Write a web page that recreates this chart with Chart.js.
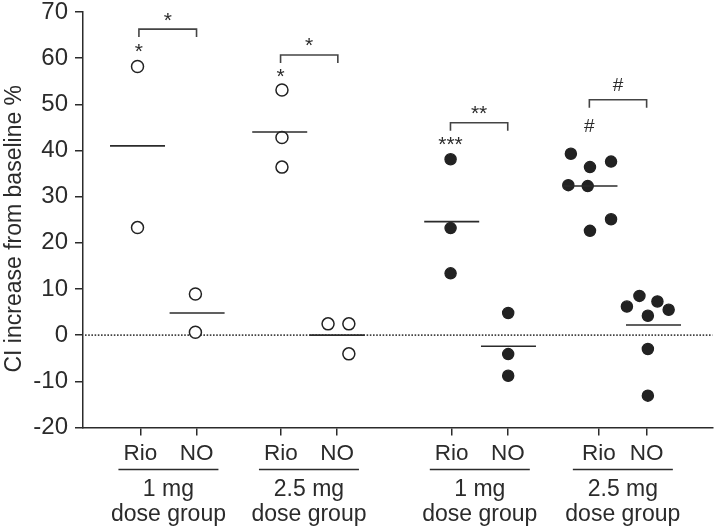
<!DOCTYPE html>
<html><head><meta charset="utf-8">
<script src="https://cdn.jsdelivr.net/npm/chart.js@4.4.1/dist/chart.umd.min.js"></script>
<style>html,body{margin:0;padding:0;background:#fff}canvas{display:block}</style>
</head><body>
<canvas id="c" width="720" height="530"></canvas>
<script>
// ---- categories / ticks ----
const categories = ['Rio','NO','Rio','NO','Rio','NO','Rio','NO'];
const categoryX = [1.02, 2.02, 3.52, 4.52, 6.56, 7.56, 9.18, 10.03];
const groupLabels = ['1 mg', '2.5 mg', '1 mg', '2.5 mg'];
const groupSubLabel = 'dose group';
const yMin = -20, yMax = 70, yStep = 10;
const yTitle = 'CI increase from baseline %';

// ---- individual values [x, y] ----
const rio1mgOpen = [[0.97,58.2],[0.97,23.3]];
const no1mgOpen = [[2.0,8.9],[2.0,0.65]];
const rio25mgOpen = [[3.54,53.1],[3.54,42.8],[3.54,36.4]];
const no25mgOpen = [[4.36,2.45],[4.73,2.45],[4.73,-4.05]];
const rio1mgFilled = [[6.54,38.1],[6.54,23.2],[6.54,13.4]];
const no1mgFilled = [[7.565,4.8],[7.565,-4.1],[7.565,-8.8]];
const rio25mgFilled = [[8.68,39.3],[9.02,36.4],[9.395,37.6],[8.635,32.5],[8.98,32.3],[9.395,25.1],[9.02,22.6]];
const no25mgFilled = [[9.677,6.2],[9.9,8.5],[10.22,7.3],[10.05,4.2],[10.42,5.5],[10.05,-3.0],[10.05,-13.1]];

// ---- group means ----
const meanX = [0.97, 2.03, 3.5, 4.52, 6.56, 7.57, 9.02, 10.15];
const meanY = [41.0, 4.8, 44.0, 0.0, 24.6, -2.4, 32.3, 2.2];

// ---- significance marks ----
const bracketFrom = [0.995, 3.515, 6.538, 9.009];
const bracketTo = [2.02, 4.534, 7.557, 10.028];
const bracketY = [66.3, 60.7, 46.0, 51.0];
const bracketMark = ['*','*','**','#'];
const bracketMarkY = [69.0, 63.4, 48.8, 54.4];
const rioMark = ['*','*','***','#'];
const rioMarkY = [62.3, 56.7, 42.1, 45.4];

const FONT = '"Liberation Sans", Arial, Helvetica, sans-serif';
const INK = '#2b2b2b';
const toPts = a => a.map(p => ({x: p[0], y: p[1]}));

function openSet(d){ return {data: toPts(d), pointStyle:'circle', pointRadius:6, pointBorderWidth:1.5,
  pointBackgroundColor:'#fff', pointBorderColor:'#222', showLine:false}; }
function fillSet(d){ return {data: toPts(d), pointStyle:'circle', pointRadius:5.6, pointBorderWidth:1.3,
  pointBackgroundColor:'#222', pointBorderColor:'#222', showLine:false}; }

function drawMark(ctx, text, x, y, size){
  ctx.font = size + 'px ' + FONT;
  ctx.textAlign = 'center';
  ctx.textBaseline = 'alphabetic';
  const m = ctx.measureText(text);
  ctx.fillText(text, x, y + (m.actualBoundingBoxAscent - m.actualBoundingBoxDescent) / 2);
}

const annotations = {
  id: 'annotations',
  beforeDatasetsDraw(chart){
    const {ctx, chartArea, scales:{x, y}} = chart;
    const y0 = y.getPixelForValue(0);
    ctx.save();
    ctx.strokeStyle = '#444'; ctx.lineWidth = 1.6; ctx.setLineDash([1.6,1.6]);
    ctx.beginPath(); ctx.moveTo(chartArea.left + 2, y0); ctx.lineTo(chartArea.right, y0); ctx.stroke();
    ctx.restore();
  },
  afterDatasetsDraw(chart){
    const {ctx, chartArea, scales:{x, y}} = chart;
    ctx.save();
    // mean lines
    ctx.strokeStyle = INK; ctx.lineWidth = 1.6;
    meanX.forEach((mx, i) => {
      const px = x.getPixelForValue(mx), py = y.getPixelForValue(meanY[i]);
      ctx.beginPath(); ctx.moveTo(px - 27.5, py); ctx.lineTo(px + 27.5, py); ctx.stroke();
    });
    // brackets
    ctx.strokeStyle = '#444'; ctx.lineWidth = 1.6;
    ctx.fillStyle = INK;
    bracketFrom.forEach((bf, i) => {
      const x1 = x.getPixelForValue(bf), x2 = x.getPixelForValue(bracketTo[i]);
      const by = y.getPixelForValue(bracketY[i]);
      ctx.beginPath(); ctx.moveTo(x1, by + 8); ctx.lineTo(x1, by); ctx.lineTo(x2, by); ctx.lineTo(x2, by + 8); ctx.stroke();
      const isHash = bracketMark[i] === '#';
      drawMark(ctx, bracketMark[i], (x1 + x2) / 2, y.getPixelForValue(bracketMarkY[i]), isHash ? 19 : 21);
      drawMark(ctx, rioMark[i], x1, y.getPixelForValue(rioMarkY[i]), isHash ? 19 : 21);
    });
    ctx.restore();
  },
  afterDraw(chart){
    const {ctx, chartArea, scales:{x, y}} = chart;
    ctx.save();
    ctx.fillStyle = INK; ctx.strokeStyle = INK; ctx.lineWidth = 1.5;
    // group labels under pairs
    groupLabels.forEach((g, i) => {
      const c = (x.getPixelForValue(categoryX[2*i]) + x.getPixelForValue(categoryX[2*i+1])) / 2;
      ctx.beginPath(); ctx.moveTo(c - 50, 469.5); ctx.lineTo(c + 50, 469.5); ctx.stroke();
      ctx.font = '23px ' + FONT; ctx.textAlign = 'center'; ctx.textBaseline = 'alphabetic';
      ctx.fillText(g, c, 495.5);
      ctx.fillText(groupSubLabel, c, 520.5);
    });
    // y title
    ctx.translate(20.7, (chartArea.top + chartArea.bottom) / 2 + 9);
    ctx.rotate(-Math.PI / 2);
    ctx.font = '23px ' + FONT; ctx.textAlign = 'center'; ctx.textBaseline = 'alphabetic';
    ctx.fillText(yTitle, 0, 0);
    ctx.restore();
  }
};

new Chart(document.getElementById('c'), {
  type: 'scatter',
  data: { datasets: [
    openSet(rio1mgOpen), openSet(no1mgOpen), openSet(rio25mgOpen), openSet(no25mgOpen),
    fillSet(rio1mgFilled), fillSet(no1mgFilled), fillSet(rio25mgFilled), fillSet(no25mgFilled)
  ]},
  options: {
    responsive: false, animation: false, events: [],
    layout: { padding: { top: 12, right: 0, left: 0, bottom: 0 } },
    plugins: { legend: { display: false }, tooltip: { enabled: false } },
    scales: {
      x: {
        type: 'linear', min: 0, max: 11.2,
        afterBuildTicks(s){ s.ticks = categoryX.map(v => ({value: v})); },
        afterFit(s){ s.height = 102.5; s.paddingLeft = 0; s.paddingRight = 0; },
        ticks: { callback: (v, i) => categories[i], autoSkip: false, maxRotation: 0, padding: 5,
          color: INK, font: { family: FONT, size: 22.5 } },
        grid: { drawOnChartArea: false, tickLength: 8, color: INK, lineWidth: 1.5 },
        border: { color: INK, width: 1.5 }
      },
      y: {
        min: yMin, max: yMax,
        afterFit(s){ s.width = 83; s.paddingTop = 0; s.paddingBottom = 0; },
        ticks: { stepSize: yStep, padding: 7, color: INK, font: { family: FONT, size: 24 } },
        grid: { drawOnChartArea: false, tickLength: 8, color: INK, lineWidth: 1.5 },
        border: { color: INK, width: 1.5 }
      }
    }
  },
  plugins: [annotations]
});
</script>
</body></html>
